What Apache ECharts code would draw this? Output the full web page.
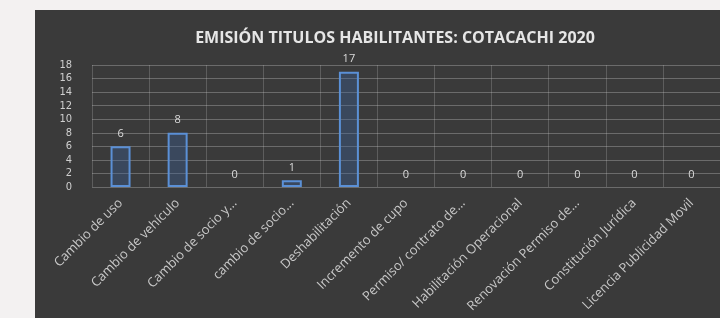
<!DOCTYPE html>
<html>
<head>
<meta charset="utf-8">
<script src="https://cdn.jsdelivr.net/npm/echarts@6/dist/echarts.min.js"></script>
<style>
html, body { margin: 0; padding: 0; background: #f3f1f1; }
#wrap { position: relative; width: 720px; height: 318px; overflow: hidden; }
#abc { position: absolute; left: 35px; top: 10px; width: 685px; height: 308px; background: #3a3a3a; }
</style>
</head>
<body>
<div id="wrap"><div id="abc"></div></div>
<script>
// categorías y valores
let categorias = [
    'Cambio de uso',
    'Cambio de vehículo',
    'Cambio de socio y...',
    'cambio de socio...',
    'Deshabilitación',
    'Incremento de cupo',
    'Permiso/ contrato de...',
    'Habilitación Operacional',
    'Renovación Permiso de...',
    'Constitución Jurídica',
    'Licencia Publicidad Movil'
]
let valores = [6, 8, 0, 1, 17, 0, 0, 0, 0, 0, 0]
let ticksY = [0, 2, 4, 6, 8, 10, 12, 14, 16, 18]

let myChart = echarts.init(document.getElementById('abc'))

// las barras en cero no muestran borde
let datos = []
for (let i in valores) {
    let v = valores[i]
    if (v === 0) {
        datos.push({ value: v, itemStyle: { borderWidth: 0, color: 'transparent' } })
    } else {
        datos.push(v)
    }
}

let option = {
    animation: false,
    title: {
        text: 'EMISIÓN TITULOS HABILITANTES: COTACACHI 2020',
        left: 355,
        top: 15,
        textAlign: 'center',
        textStyle: {
            color: '#e6e6e6',
            fontSize: 16,
            fontWeight: 'bold',
            fontFamily: 'Open Sans'
        }
    },
    grid: {
        left: 57,
        top: 55,
        width: 634,
        height: 122
    },
    xAxis: {
        type: 'category',
        data: categorias,
        axisLine: { show: false },
        axisTick: { show: false },
        splitLine: {
            show: true,
            lineStyle: { color: 'rgba(200,200,200,0.25)', width: 1 }
        },
        axisLabel: {
            rotate: 45,
            interval: 0,
            margin: 14,
            color: '#c8c8c8',
            fontSize: 13,
            fontFamily: 'Open Sans'
        }
    },
    yAxis: {
        type: 'value',
        min: ticksY[0],
        max: ticksY[ticksY.length - 1],
        interval: 2,
        axisLine: { show: false },
        axisTick: { show: false },
        splitLine: {
            lineStyle: { color: 'rgba(200,200,200,0.35)', width: 1 }
        },
        axisLabel: {
            margin: 20,
            color: '#cfcfcf',
            fontSize: 11,
            fontFamily: 'DejaVu Sans Condensed'
        }
    },
    series: [
        {
            type: 'bar',
            data: datos,
            barWidth: 20,
            itemStyle: {
                color: 'rgba(60,100,160,0.35)',
                borderColor: '#5b90d6',
                borderWidth: 2
            },
            label: {
                show: true,
                position: 'top',
                distance: 7,
                color: '#dcdcdc',
                fontSize: 11,
                fontFamily: 'Open Sans'
            }
        }
    ]
}

myChart.setOption(option)
</script>
</body>
</html>
